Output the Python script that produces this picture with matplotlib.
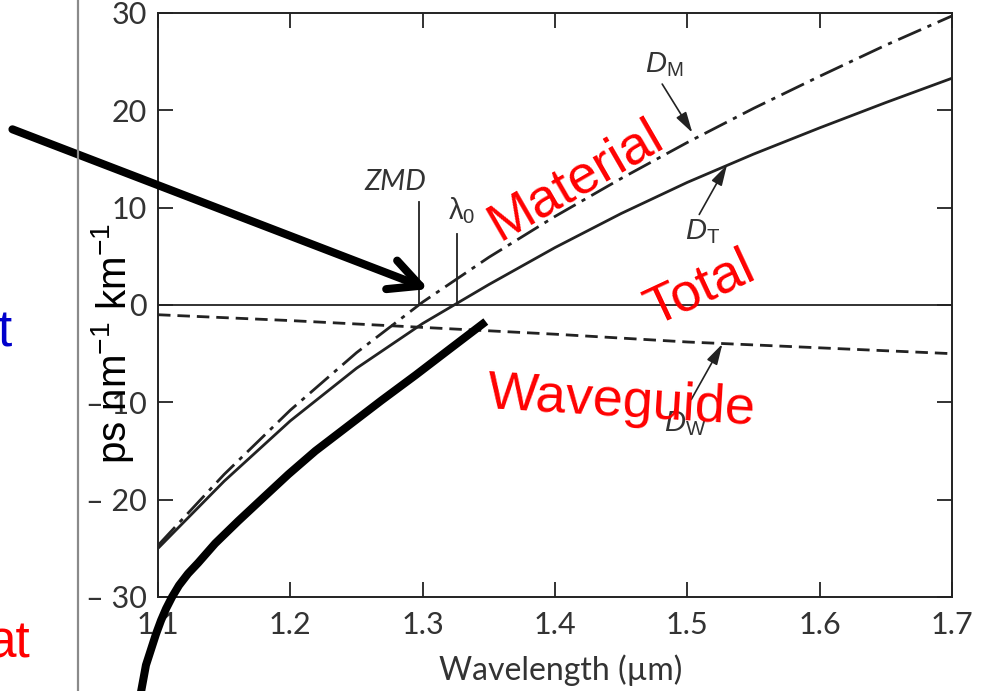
import matplotlib
matplotlib.use("Agg")
import matplotlib.pyplot as plt
from matplotlib.lines import Line2D

plt.rcParams['lines.scale_dashes'] = False
plt.rcParams['mathtext.fontset'] = 'custom'
plt.rcParams['mathtext.rm'] = 'Liberation Sans'
plt.rcParams['mathtext.it'] = 'Liberation Sans:italic'

# ---- data ----
wl_material = [1.10, 1.15, 1.20, 1.25, 1.30, 1.35, 1.40, 1.45, 1.50, 1.55, 1.60, 1.65, 1.70]
d_material = [-24.7, -17.4, -10.8, -4.9, 0.3, 4.9, 9.1, 13.0, 16.7, 20.2, 23.5, 26.7, 29.7]

wl_total = [1.10, 1.15, 1.20, 1.25, 1.30, 1.35, 1.40, 1.45, 1.50, 1.55, 1.60, 1.65, 1.70]
d_total = [-25.0, -18.1, -11.9, -6.5, -1.9, 2.1, 5.9, 9.4, 12.6, 15.5, 18.2, 20.8, 23.3]

wl_waveguide = [1.10, 1.20, 1.30, 1.40, 1.50, 1.60, 1.70]
d_waveguide = [-1.0, -1.6, -2.3, -3.0, -3.8, -4.4, -5.0]

# hand-drawn thick curve (slide annotation)
wl_sketch = [1.0871, 1.0909, 1.0947, 1.0985, 1.1023, 1.1061, 1.1106, 1.1159, 1.1227,
             1.1303, 1.1432, 1.1606, 1.1811, 1.1985, 1.2189, 1.2439, 1.2689, 1.2947,
             1.3197, 1.3477]
d_sketch = [-39.8, -37.0, -35.4, -33.8, -32.4, -31.2, -30.0, -28.8, -27.6,
            -26.5, -24.5, -22.2, -19.6, -17.4, -15.0, -12.4, -9.8, -7.2,
            -4.6, -1.7]

zmd = 1.297
lambda0 = 1.326

x_ticks = [1.1, 1.2, 1.3, 1.4, 1.5, 1.6, 1.7]
x_tick_labels = ['1.1', '1.2', '1.3', '1.4', '1.5', '1.6', '1.7']
y_ticks = [-30, -20, -10, 0, 10, 20, 30]
y_tick_labels = ['\u2013 30', '\u2013 20', '\u2013 10', '0', '10', '20', '30']

INK = '#222222'
SCAN_TXT = '#333333'
SCAN_FONT = ['Lato', 'DejaVu Sans']

fig = plt.figure(figsize=(9.83, 6.91), dpi=100)
ax = fig.add_axes([158/983, 1 - 597/691, (952 - 158)/983, (597 - 13)/691])
ax.set_xlim(1.1, 1.7)
ax.set_ylim(-30, 30)

for s in ax.spines.values():
    s.set_color(INK)
    s.set_linewidth(1.4)

ax.set_xticks(x_ticks)
ax.set_xticklabels(x_tick_labels, family=SCAN_FONT, fontsize=22, color=SCAN_TXT)
ax.set_yticks(y_ticks)
ax.set_yticklabels(y_tick_labels, family=SCAN_FONT, fontsize=22, color=SCAN_TXT)
ax.tick_params(axis='both', direction='in', length=11, width=1.3, color=INK,
               top=True, right=True)
ax.tick_params(axis='x', pad=10)
ax.tick_params(axis='y', pad=8)

# zero line
ax.axhline(0, color=INK, lw=1.3)

# curves
ax.plot(wl_material, d_material, color=INK, lw=2.0,
        linestyle=(0, (18, 5, 3, 5)))
ax.plot(wl_total, d_total, color=INK, lw=2.0)
ax.plot(wl_waveguide, d_waveguide, color=INK, lw=2.0,
        linestyle=(0, (9, 5)))

# ZMD and lambda0 markers
ax.plot([zmd, zmd], [0, 10.6], color=INK, lw=1.3)
ax.plot([lambda0, lambda0], [0, 7.3], color=INK, lw=1.3)
ax.text(1.279, 11.8, 'ZMD', family=SCAN_FONT, style='italic', fontsize=21,
        color=SCAN_TXT, ha='center', va='baseline')
ax.text(1.3295, 8.8, r'$\mathrm{\lambda}_\mathrm{0}$', fontsize=21,
        color=SCAN_TXT, ha='center', va='baseline')

# curve labels with thin arrows
lbl_kw = dict(fontsize=21, color=SCAN_TXT, ha='center', va='center')
arr_kw = dict(arrowstyle='-|>,head_length=0.9,head_width=0.25', color=INK, lw=1.2,
              shrinkA=0, shrinkB=0, mutation_scale=14)
ax.text(1.4826, 24.7, r'$D_{\mathrm{M}}$', **lbl_kw)
ax.annotate('', xy=(1.5038, 17.7), xytext=(1.481, 22.7), arrowprops=arr_kw)
ax.text(1.5114, 7.5, r'$D_{\mathrm{T}}$', **lbl_kw)
ax.annotate('', xy=(1.530, 14.4), xytext=(1.509, 9.3), arrowprops=arr_kw)
ax.text(1.4985, -12.2, r'$D_{\mathrm{W}}$', **lbl_kw)
ax.annotate('', xy=(1.5265, -4.0), xytext=(1.503, -9.7), arrowprops=arr_kw)

# slide annotations (red text)
RED = '#ff0000'
red_kw = dict(family=['Liberation Sans'], fontsize=39, color=RED, ha='center',
              va='baseline', rotation_mode='anchor')
ax.text(1.4212, 11.6, 'Material', rotation=30, **red_kw)
ax.text(1.5144, 0.4, 'Total', rotation=25, **red_kw)
ax.text(1.4495, -11.4, 'Waveguide', rotation=-3.5, **red_kw)

# thick hand-drawn curve and arrow
ax.plot(wl_sketch, d_sketch, color='black', lw=5.8, solid_capstyle='butt',
        solid_joinstyle='round', clip_on=False, zorder=5)
ax.annotate('', xy=(1.3045, 1.64), xytext=(0.990, 18.05),
            arrowprops=dict(arrowstyle='->,head_length=1.1,head_width=0.55',
                            color='black', lw=5.8, shrinkA=0, shrinkB=0,
                            mutation_scale=20),
            annotation_clip=False, zorder=6)

# axis labels
ax.text((113 - 158)/794, (597 - 343)/584, r'ps nm$^{-1}$ km$^{-1}$',
        transform=ax.transAxes, rotation=90, ha='center', va='center',
        family=['Liberation Sans'], fontsize=29, color='black')
ax.text((561 - 158)/794, (597 - 670)/584, 'Wavelength (\u00b5m)',
        transform=ax.transAxes, ha='center', va='center',
        family=SCAN_FONT, fontsize=23, color=SCAN_TXT)

# slide elements left of the chart
fig.add_artist(Line2D([78/983, 78/983], [0, 1], transform=fig.transFigure,
                      color='#8a8a8a', lw=1.6))
fig.text(11/983, 1 - 347/691, 't', family=['Liberation Sans'], fontsize=37,
         color='#0000cc', ha='right', va='baseline')
fig.text(31/983, 1 - 658/691, 'at', family=['Liberation Sans'], fontsize=37,
         color=RED, ha='right', va='baseline')

fig.savefig('out.png', dpi=100)
